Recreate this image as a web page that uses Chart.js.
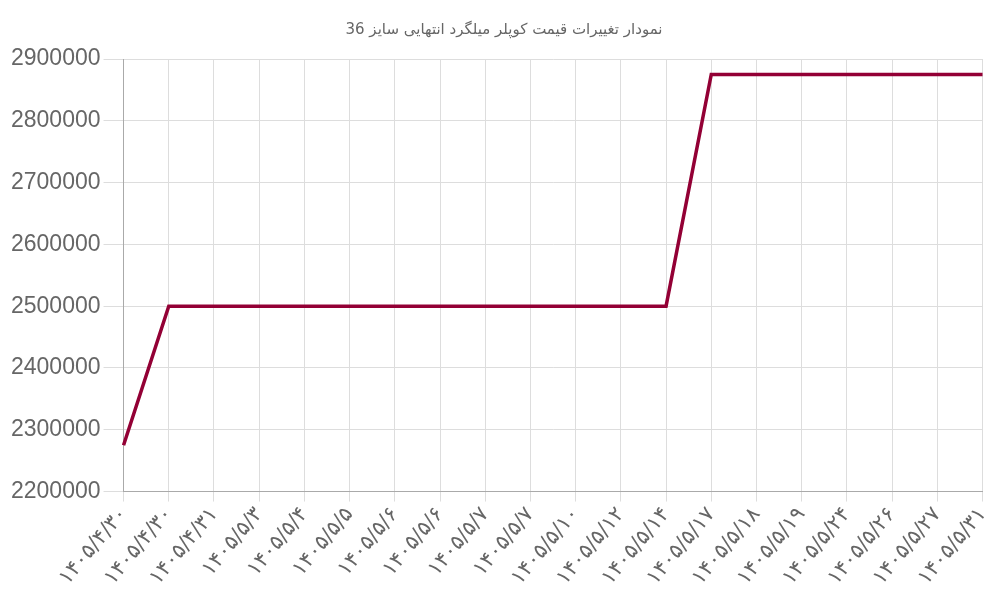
<!DOCTYPE html>
<html>
<head>
<meta charset="utf-8">
<script src="https://cdn.jsdelivr.net/npm/chart.js@4/dist/chart.umd.min.js"></script>
<style>
  html, body { margin: 0; padding: 0; background: #fff; }
  #wrap { width: 1000px; height: 600px; }
</style>
</head>
<body>
<div id="wrap"><canvas id="priceChart"></canvas></div>
<script>
// داده‌ها
const dates = [
  '۱۴۰۵/۴/۳۰', '۱۴۰۵/۴/۳۰', '۱۴۰۵/۴/۳۱', '۱۴۰۵/۵/۳', '۱۴۰۵/۵/۴',
  '۱۴۰۵/۵/۵', '۱۴۰۵/۵/۶', '۱۴۰۵/۵/۶', '۱۴۰۵/۵/۷', '۱۴۰۵/۵/۷',
  '۱۴۰۵/۵/۱۰', '۱۴۰۵/۵/۱۲', '۱۴۰۵/۵/۱۴', '۱۴۰۵/۵/۱۷', '۱۴۰۵/۵/۱۸',
  '۱۴۰۵/۵/۱۹', '۱۴۰۵/۵/۲۴', '۱۴۰۵/۵/۲۶', '۱۴۰۵/۵/۲۷', '۱۴۰۵/۵/۳۱'
];
const prices = [
  2275000, 2500000, 2500000, 2500000, 2500000,
  2500000, 2500000, 2500000, 2500000, 2500000,
  2500000, 2500000, 2500000, 2875000, 2875000,
  2875000, 2875000, 2875000, 2875000, 2875000
];
const chartTitle = 'نمودار تغییرات قیمت کوپلر میلگرد انتهایی سایز 36';

const ctx = document.getElementById('priceChart').getContext('2d');
new Chart(ctx, {
  type: 'line',
  data: {
    labels: dates,
    datasets: [{
      label: 'قیمت',
      data: prices,
      borderColor: '#930035',
      borderWidth: 3.5,
      pointRadius: 0,
      tension: 0,
      fill: false
    }]
  },
  options: {
    responsive: true,
    maintainAspectRatio: false,
    animation: false,
    layout: { padding: { left: 8, right: 0, bottom: 9 } },
    plugins: {
      legend: { display: false },
      title: {
        display: true,
        text: chartTitle,
        color: '#666',
        font: { family: 'DejaVu Sans', size: 15, weight: 'normal' },
        padding: { top: 21, bottom: 20 }
      }
    },
    scales: {
      x: {
        grid: { color: '#ddd', tickLength: 10 },
        border: { color: '#aaa' },
        ticks: {
          color: '#666',
          font: { family: 'DejaVu Sans', size: 21, lineHeight: 0.9 },
          maxRotation: 50,
          minRotation: 50,
          autoSkip: false
        }
      },
      y: {
        min: 2200000,
        max: 2900000,
        grid: { color: '#ddd', tickLength: 20 },
        border: { color: '#aaa' },
        ticks: {
          stepSize: 100000,
          color: '#666',
          font: { family: 'Liberation Sans', size: 23 },
          callback: v => String(v)
        }
      }
    }
  }
});
</script>
</body>
</html>
